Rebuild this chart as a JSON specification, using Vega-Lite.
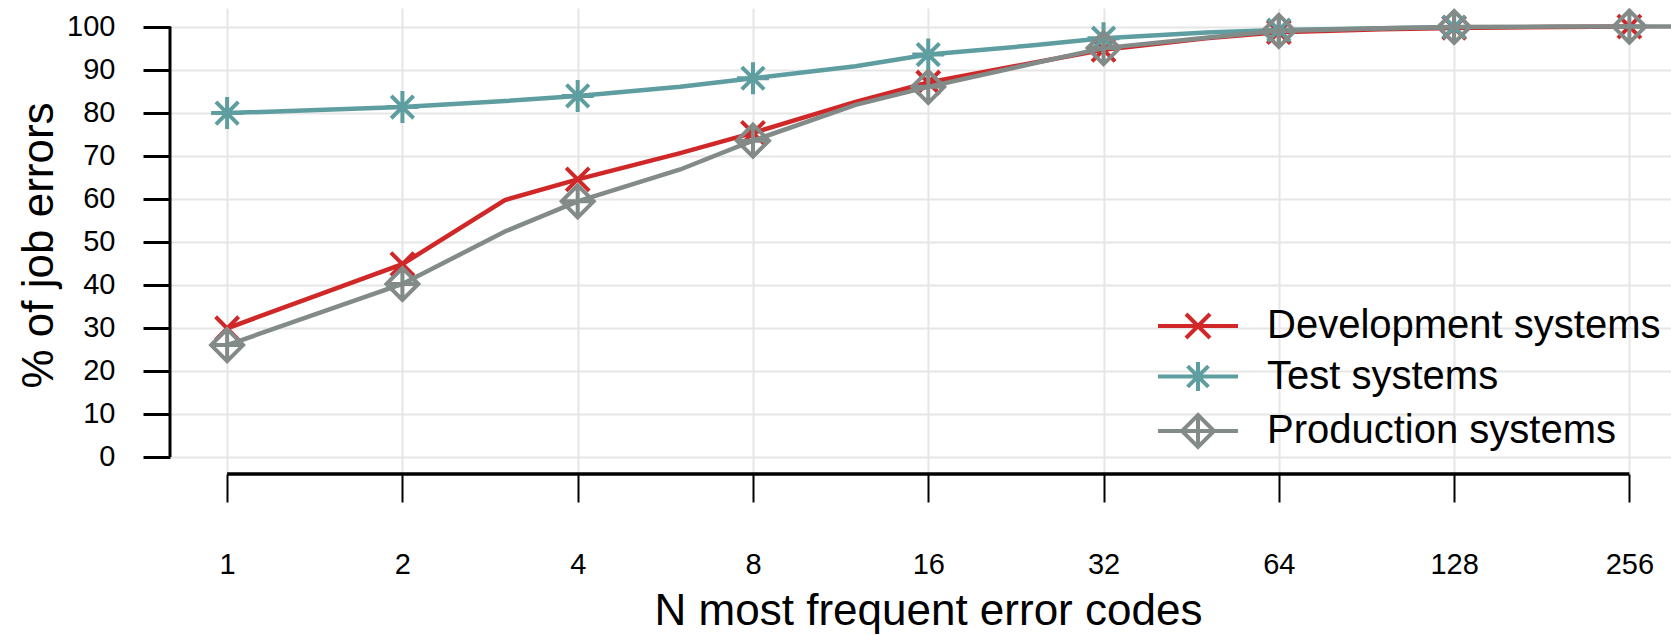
{
  "$schema": "https://vega.github.io/schema/vega-lite/v6.json",
  "autosize": {"type": "none"},
  "padding": {"left": 170, "top": 8, "right": 0, "bottom": 161},
  "width": 1501,
  "height": 466,
  "background": "white",
  "config": {"view": {"stroke": null}, "font": "Liberation Sans"},
  "data": {"values": [
    {"n": 1, "v": 29.9, "s": "Development systems"},
    {"n": 2, "v": 44.8, "s": "Development systems"},
    {"n": 3, "v": 59.7, "s": "Development systems"},
    {"n": 4, "v": 64.5, "s": "Development systems"},
    {"n": 6, "v": 70.6, "s": "Development systems"},
    {"n": 8, "v": 75.3, "s": "Development systems"},
    {"n": 12, "v": 82.5, "s": "Development systems"},
    {"n": 16, "v": 87.0, "s": "Development systems"},
    {"n": 24, "v": 91.5, "s": "Development systems"},
    {"n": 32, "v": 94.6, "s": "Development systems"},
    {"n": 48, "v": 97.3, "s": "Development systems"},
    {"n": 64, "v": 98.7, "s": "Development systems"},
    {"n": 96, "v": 99.4, "s": "Development systems"},
    {"n": 128, "v": 99.7, "s": "Development systems"},
    {"n": 192, "v": 99.9, "s": "Development systems"},
    {"n": 256, "v": 100, "s": "Development systems"},
    {"n": 1, "v": 79.9, "s": "Test systems"},
    {"n": 2, "v": 81.3, "s": "Test systems"},
    {"n": 3, "v": 82.7, "s": "Test systems"},
    {"n": 4, "v": 83.9, "s": "Test systems"},
    {"n": 6, "v": 86.0, "s": "Test systems"},
    {"n": 8, "v": 88.0, "s": "Test systems"},
    {"n": 12, "v": 90.8, "s": "Test systems"},
    {"n": 16, "v": 93.5, "s": "Test systems"},
    {"n": 24, "v": 95.6, "s": "Test systems"},
    {"n": 32, "v": 97.3, "s": "Test systems"},
    {"n": 48, "v": 98.6, "s": "Test systems"},
    {"n": 64, "v": 99.2, "s": "Test systems"},
    {"n": 96, "v": 99.6, "s": "Test systems"},
    {"n": 128, "v": 99.9, "s": "Test systems"},
    {"n": 1, "v": 26.0, "s": "Production systems"},
    {"n": 2, "v": 40.2, "s": "Production systems"},
    {"n": 3, "v": 52.4, "s": "Production systems"},
    {"n": 4, "v": 59.4, "s": "Production systems"},
    {"n": 6, "v": 66.8, "s": "Production systems"},
    {"n": 8, "v": 73.5, "s": "Production systems"},
    {"n": 12, "v": 81.8, "s": "Production systems"},
    {"n": 16, "v": 86.0, "s": "Production systems"},
    {"n": 24, "v": 91.3, "s": "Production systems"},
    {"n": 32, "v": 95.0, "s": "Production systems"},
    {"n": 48, "v": 97.4, "s": "Production systems"},
    {"n": 64, "v": 99.0, "s": "Production systems"},
    {"n": 96, "v": 99.6, "s": "Production systems"},
    {"n": 128, "v": 99.9, "s": "Production systems"},
    {"n": 192, "v": 100, "s": "Production systems"},
    {"n": 256, "v": 100, "s": "Production systems"},
    {"n": 512, "v": 100, "s": "Production systems"}
  ]},
  "encoding": {
    "x": {
      "field": "n", "type": "quantitative",
      "scale": {"type": "log", "base": 2, "domain": [0.7978, 301.8], "nice": false, "zero": false},
      "axis": {
        "values": [1, 2, 4, 8, 16, 32, 64, 128, 256], "format": "d",
        "domain": false, "ticks": true, "tickSize": 28, "tickWidth": 2, "tickColor": "black",
        "labelFont": "Liberation Sans", "labelFontSize": 29, "labelColor": "black",
        "labelPadding": 71, "labelBaseline": "alphabetic", "labelFlush": false, "labelOverlap": false,
        "grid": true, "gridColor": "#e6e6e6", "gridWidth": 2,
        "title": "N most frequent error codes", "titleFont": "Liberation Sans", "titleFontSize": 44,
        "titleFontWeight": "normal", "titleColor": "black", "titleX": 758, "titleY": 150,
        "titleBaseline": "alphabetic", "titleAlign": "center"
      }
    },
    "y": {
      "field": "v", "type": "quantitative",
      "scale": {"domain": [-3.95, 104.32], "nice": false, "zero": false},
      "axis": {
        "values": [0, 10, 20, 30, 40, 50, 60, 70, 80, 90, 100],
        "domain": false, "ticks": true, "tickSize": 27, "tickWidth": 3, "tickColor": "black",
        "labelFont": "Liberation Sans", "labelFontSize": 29, "labelColor": "black",
        "labelPadding": 28, "labelBaseline": "middle", "labelFlush": false, "labelOverlap": false,
        "grid": true, "gridColor": "#e6e6e6", "gridWidth": 2,
        "title": "% of job errors", "titleFont": "Liberation Sans", "titleFontSize": 44,
        "titleFontWeight": "normal", "titleColor": "black", "titleAngle": -90,
        "titleX": -118, "titleY": 237, "titleBaseline": "alphabetic", "titleAlign": "center"
      }
    }
  },
  "layer": [
    {
      "data": {"values": [{"xa": 0.7978, "ya": 0, "yb": 100}]},
      "mark": {"type": "rule", "color": "black", "strokeWidth": 3},
      "encoding": {
        "x": {"field": "xa", "type": "quantitative"},
        "y": {"field": "ya", "type": "quantitative"},
        "y2": {"field": "yb"}
      }
    },
    {
      "data": {"values": [{"xa": 1, "xb": 256, "ya": -3.95}]},
      "mark": {"type": "rule", "color": "black", "strokeWidth": 3.5},
      "encoding": {
        "x": {"field": "xa", "type": "quantitative"},
        "x2": {"field": "xb"},
        "y": {"field": "ya", "type": "quantitative"}
      }
    },
    {
      "transform": [{"filter": "datum.s === 'Development systems'"}],
      "mark": {"type": "line", "color": "#d02828", "strokeWidth": 4.5, "clip": true}
    },
    {
      "transform": [{"filter": "datum.s === 'Development systems' && indexof([1,2,4,8,16,32,64,128,256], datum.n) >= 0"}],
      "mark": {"type": "point", "filled": false, "color": "#d02828", "strokeWidth": 4, "size": 1024, "opacity": 1,
               "shape": "M-0.72,-0.72L0.72,0.72M-0.72,0.72L0.72,-0.72"}
    },
    {
      "transform": [{"filter": "datum.s === 'Test systems'"}],
      "mark": {"type": "line", "color": "#5f9ea0", "strokeWidth": 4.5, "clip": true}
    },
    {
      "transform": [{"filter": "datum.s === 'Test systems' && indexof([1,2,4,8,16,32,64,128,256], datum.n) >= 0"}],
      "mark": {"type": "point", "filled": false, "color": "#5f9ea0", "strokeWidth": 4, "size": 1024, "opacity": 1,
               "shape": "M0,-1V1M-1,0H1M-0.7,-0.7L0.7,0.7M-0.7,0.7L0.7,-0.7"}
    },
    {
      "transform": [{"filter": "datum.s === 'Production systems'"}],
      "mark": {"type": "line", "color": "#838b89", "strokeWidth": 4.5, "clip": true}
    },
    {
      "transform": [{"filter": "datum.s === 'Production systems' && indexof([1,2,4,8,16,32,64,128,256], datum.n) >= 0"}],
      "mark": {"type": "point", "filled": false, "color": "#838b89", "strokeWidth": 4, "size": 1024, "opacity": 1,
               "shape": "M0,-1L1,0L0,1L-1,0ZM0,-1V1M-1,0H1"}
    },
    {
      "transform": [{"filter": "datum.n < 0"}],
      "mark": {"type": "point", "filled": false, "strokeWidth": 4, "opacity": 1},
      "encoding": {
        "color": {
          "field": "s", "type": "nominal",
          "scale": {"domain": ["Development systems", "Test systems", "Production systems"], "range": ["#d02828", "#5f9ea0", "#838b89"]},
          "legend": {"title": null, "orient": "none", "legendX": 1008, "legendY": 298, "padding": 0,
                     "symbolSize": 1024, "symbolStrokeWidth": 4, "labelFont": "Liberation Sans", "labelFontSize": 40,
                     "labelColor": "black", "labelOffset": 49, "rowPadding": 7.5, "labelLimit": 1000}
        },
        "shape": {
          "field": "s", "type": "nominal",
          "scale": {"domain": ["Development systems", "Test systems", "Production systems"],
                    "range": ["M-2.5,0H2.5M-0.75,-0.75L0.75,0.75M-0.75,0.75L0.75,-0.75",
                              "M-2.5,0H2.5M0,-0.9V0.9M-0.65,-0.65L0.65,0.65M-0.65,0.65L0.65,-0.65",
                              "M-2.5,0H2.5M0,-1L1,0L0,1L-1,0ZM0,-1V1"]},
          "legend": {"title": null, "orient": "none", "legendX": 1008, "legendY": 298, "padding": 0,
                     "symbolSize": 1024, "symbolStrokeWidth": 4, "labelFont": "Liberation Sans", "labelFontSize": 40,
                     "labelColor": "black", "labelOffset": 49, "rowPadding": 7.5, "labelLimit": 1000}
        }
      }
    }
  ]
}
